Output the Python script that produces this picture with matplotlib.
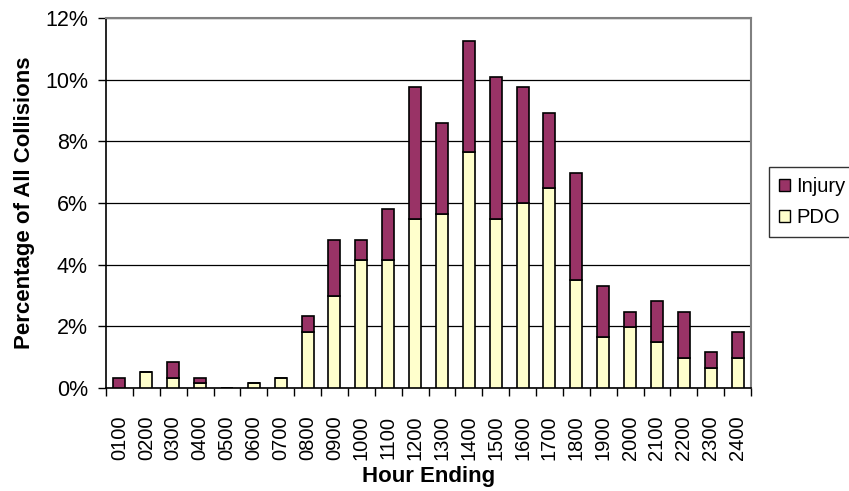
import matplotlib
matplotlib.use("Agg")
import matplotlib.pyplot as plt
import numpy as np
from matplotlib.patches import Patch

plt.rcParams['font.family'] = ['Liberation Sans', 'DejaVu Sans']

hours = ["0100", "0200", "0300", "0400", "0500", "0600", "0700", "0800",
         "0900", "1000", "1100", "1200", "1300", "1400", "1500", "1600",
         "1700", "1800", "1900", "2000", "2100", "2200", "2300", "2400"]
pdo = [0.0, 0.51, 0.32, 0.16, 0.0, 0.16, 0.33, 1.82,
       3.0, 4.15, 4.15, 5.47, 5.64, 7.64, 5.47, 6.0,
       6.49, 3.49, 1.65, 1.97, 1.48, 0.98, 0.65, 0.98]
injury = [0.33, 0.0, 0.52, 0.17, 0.0, 0.0, 0.0, 0.51,
          1.8, 0.65, 1.67, 4.28, 2.95, 3.61, 4.62, 3.75,
          2.43, 3.49, 1.67, 0.51, 1.34, 1.5, 0.51, 0.83]

injury_color = "#993366"
pdo_color = "#FFFFCC"

fig = plt.figure(figsize=(8.49, 4.91), dpi=100)
ax = fig.add_axes([106 / 849, 1 - 388 / 491, 645 / 849, 370 / 491])

x = np.arange(len(hours))
w = 0.45
ax.bar(x, pdo, width=w, color=pdo_color, edgecolor="black", linewidth=1.2, zorder=3)
ax.bar(x, injury, width=w, bottom=pdo, color=injury_color, edgecolor="black",
       linewidth=1.2, zorder=3)

ax.set_xlim(-0.5, len(hours) - 0.5)
ax.set_ylim(0, 12)
ax.set_yticks(np.arange(0, 13, 2))
ax.set_yticklabels([f"{v}%" for v in range(0, 13, 2)], fontsize=15.5)
ax.yaxis.grid(True, color="black", linewidth=0.9, zorder=0)
ax.set_axisbelow(True)

ax.set_xticks(x)
ax.set_xticklabels(hours, rotation=90, fontsize=14.5)
ax.tick_params(axis="x", which="major", length=0, pad=20)
ax.set_xticks(np.arange(-0.5, len(hours), 1), minor=True)
ax.tick_params(axis="x", which="minor", length=6, width=1, direction="out")
ax.tick_params(axis="y", length=6, width=1, direction="out", pad=7)

for side in ("top", "right"):
    ax.spines[side].set_color("#808080")
    ax.spines[side].set_linewidth(1.5)
for side in ("left", "bottom"):
    ax.spines[side].set_color("black")
    ax.spines[side].set_linewidth(1.2)

ax.set_xlabel("Hour Ending", fontsize=16, fontweight="bold", labelpad=4)
ax.set_ylabel("Percentage of All Collisions", fontsize=16, fontweight="bold", labelpad=7)

handles = [Patch(facecolor=injury_color, edgecolor="black", linewidth=1.0, label="Injury"),
           Patch(facecolor=pdo_color, edgecolor="black", linewidth=1.0, label="PDO")]
leg = fig.legend(handles=handles, loc="upper left", bbox_to_anchor=(769 / 849, 1 - 167 / 491),
                 fontsize=14.5, frameon=True, fancybox=False, edgecolor="black",
                 handlelength=0.55, handleheight=0.55, handletextpad=0.3,
                 labelspacing=0.6, borderpad=0.5, borderaxespad=0)
leg.get_frame().set_linewidth(1.0)

fig.savefig("out.png", dpi=100)
